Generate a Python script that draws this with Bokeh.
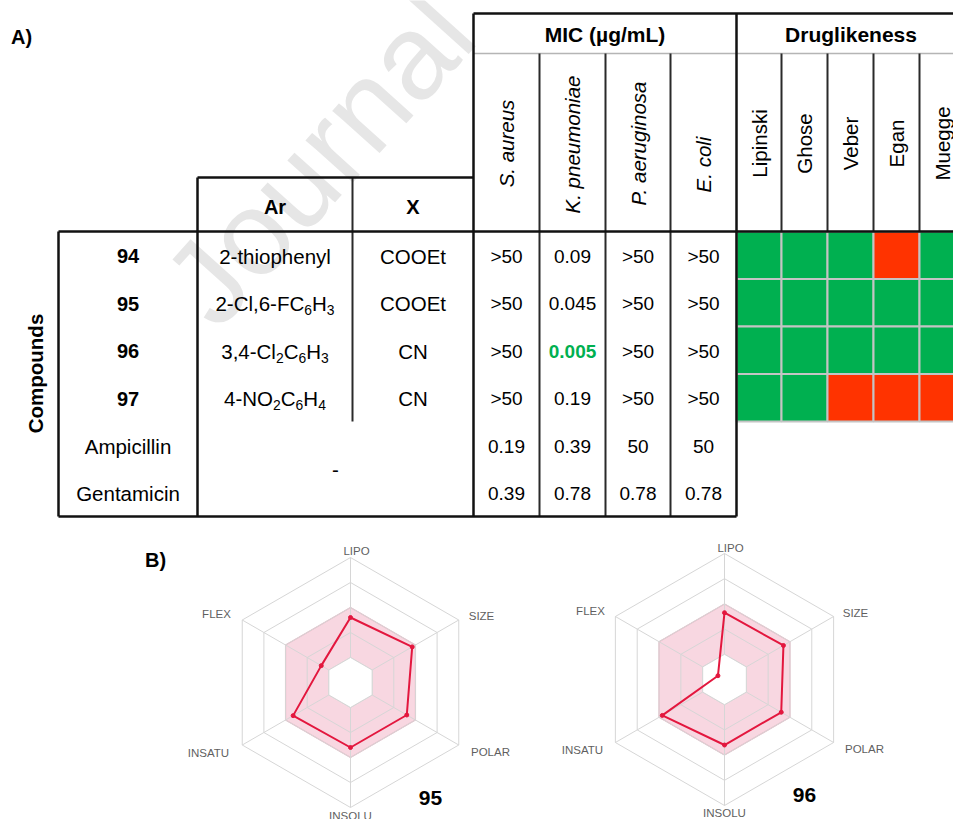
import math
from bokeh.plotting import figure
from bokeh.models import Range1d, ColumnDataSource
from bokeh.core.properties import value
from bokeh.embed import file_html
from bokeh.resources import INLINE

# ---------------- data ----------------
compounds = ["94", "95", "96", "97", "Ampicillin", "Gentamicin"]
compound_bold = [True, True, True, True, False, False]
ar_groups = ["2-thiophenyl", "2-Cl,6-FC_6H_3", "3,4-Cl_2C_6H_3", "4-NO_2C_6H_4"]
x_groups = ["COOEt", "COOEt", "CN", "CN"]
reference_drug_note = "-"
bacteria = ["S. aureus", "K. pneumoniae", "P. aeruginosa", "E. coli"]
mic_s_aureus = [">50", ">50", ">50", ">50", "0.19", "0.39"]
mic_k_pneumoniae = ["0.09", "0.045", "0.005", "0.19", "0.39", "0.78"]
mic_p_aeruginosa = [">50", ">50", ">50", ">50", "50", "0.78"]
mic_e_coli = [">50", ">50", ">50", ">50", "50", "0.78"]
mic_best = [("96", "K. pneumoniae")]
druglike_rules = ["Lipinski", "Ghose", "Veber", "Egan", "Muegge"]
druglike_94 = [1, 1, 1, 0, 1]
druglike_95 = [1, 1, 1, 1, 1]
druglike_96 = [1, 1, 1, 1, 1]
druglike_97 = [1, 1, 0, 0, 0]
radar_axes = ["LIPO", "SIZE", "POLAR", "INSOLU", "INSATU", "FLEX"]
radar_95 = [0.52, 0.57, 0.52, 0.52, 0.53, 0.27]
radar_96 = [0.53, 0.54, 0.52, 0.52, 0.57, 0.06]
optimal_low = 0.2
optimal_high = 0.6
radar_rings = [0.2, 0.4, 0.6, 0.8, 1.0]

# ---------------- layout ----------------
FONT = "Liberation Sans"
FS_L = 20.5   # compound / Ar / X columns
FS_M = 19     # MIC values
FS_R = 20.5   # rotated column headers
W, H = 953, 819
p = figure(width=W, height=H, x_range=Range1d(0, W), y_range=Range1d(H, 0),
           output_backend="svg", toolbar_location=None, min_border=0,
           x_axis_location=None, y_axis_location=None, outline_line_color=None,
           background_fill_color="white", border_fill_color="white")
p.grid.visible = False


def txt(xs, ys, texts, size, style="normal", color="#000000", align="center",
        baseline="middle", angle=0.0, font=FONT):
    colors = color if isinstance(color, list) else [color] * len(xs)
    src = ColumnDataSource(dict(x=list(xs), y=list(ys), text=list(texts), c=colors))
    p.text(x="x", y="y", text="text", source=src, text_color="c",
           text_font=value(font), text_font_size=value(f"{size}px"),
           text_font_style=style, text_align=align, text_baseline=baseline,
           angle=angle)


# watermark
txt([186], [304], ["Journal"], 120, color="#e6e6e6", align="left",
    baseline="alphabetic", angle=math.radians(48))

XL = [58, 197, 352, 473]
XM = [473, 539, 605, 670, 736]
XD = [736, 781, 827, 873, 919, 965]
Y_TOP, Y_MICSUB, Y_ARTOP, Y_HDR = 13, 53, 177, 231
ROW_H = 47.5
Y_BOT = Y_HDR + len(compounds) * ROW_H
Y_HEAT = Y_HDR + len(ar_groups) * ROW_H
row_c = [Y_HDR + ROW_H * (i + 0.5) + 1 for i in range(len(compounds))]
mic_c = [(XM[j] + XM[j + 1]) / 2 for j in range(4)]
drug_c = [(XD[j] + XD[j + 1]) / 2 for j in range(5)]

# heatmap
rows_dl = [druglike_94, druglike_95, druglike_96, druglike_97]
l, r, t, b, fc = [], [], [], [], []
for i, row in enumerate(rows_dl):
    for j, v in enumerate(row):
        l.append(XD[j]); r.append(XD[j + 1])
        t.append(Y_HDR + i * ROW_H); b.append(Y_HDR + (i + 1) * ROW_H)
        fc.append("#00b050" if v else "#ff3300")
p.quad(left=l, right=r, top=t, bottom=b, fill_color=fc, line_color="#c4c4c4", line_width=2)

# table lines
p.segment(x0=[473], y0=[Y_MICSUB], x1=[965], y1=[Y_MICSUB], line_color="#b5b5b5", line_width=1.5)
mx0, my0, mx1, my1 = [], [], [], []
for x in XM[1:-1]:
    mx0.append(x); my0.append(Y_MICSUB); mx1.append(x); my1.append(Y_BOT)
for x in XD[1:-1]:
    mx0.append(x); my0.append(Y_MICSUB); mx1.append(x); my1.append(Y_HDR)
mx0.append(XL[2]); my0.append(Y_ARTOP); mx1.append(XL[2]); my1.append(Y_HEAT)
p.segment(x0=mx0, y0=my0, x1=mx1, y1=my1, line_color="#2a2a2a", line_width=2)
tx0 = [473, XL[1], XL[0], XL[0], XL[0], XL[1], 473, 736]
ty0 = [Y_TOP, Y_ARTOP, Y_HDR, Y_BOT, Y_HDR, Y_ARTOP, Y_TOP, Y_TOP]
tx1 = [965, 473, 965, 736, XL[0], XL[1], 473, 736]
ty1 = [Y_TOP, Y_ARTOP, Y_HDR, Y_BOT, Y_BOT, Y_BOT, Y_BOT, Y_BOT]
p.segment(x0=tx0, y0=ty0, x1=tx1, y1=ty1, line_color="#111111", line_width=2.5)

# headers
txt([21], [36], ["A)"], 20, style="bold")
txt([35], [373], ["Compounds"], 20.5, style="bold", angle=math.pi / 2)
txt([(XL[1] + XL[2]) / 2, (XL[2] + XL[3]) / 2], [206, 206], ["Ar", "X"], 20, style="bold")
txt([(XM[0] + XM[-1]) / 2, (XD[0] + XD[-1]) / 2], [34, 34], ["MIC (µg/mL)", "Druglikeness"], 21, style="bold")
bact_y = [143, 144, 143, 164]
txt(mic_c, bact_y, bacteria, FS_R, style="italic", angle=math.pi / 2)
txt(drug_c, [143] * 5, druglike_rules, FS_R, angle=math.pi / 2)

# compounds column
cx_comp = (XL[0] + XL[1]) / 2
for bold in (True, False):
    idx = [i for i in range(len(compounds)) if compound_bold[i] == bold]
    txt([cx_comp] * len(idx), [row_c[i] for i in idx], [compounds[i] for i in idx],
        20 if bold else FS_L, style="bold" if bold else "normal")

# Ar column with subscripts
CW = {'-': 333, ',': 278, 'C': 722, 'l': 222, 'F': 611, 'H': 722, 'N': 722, 'O': 778,
      't': 278, 'h': 556, 'i': 222, 'o': 556, 'p': 556, 'e': 556, 'n': 556, 'y': 500}
SUB = 0.68


def cw(ch):
    return (556 if ch.isdigit() else CW.get(ch, 556)) / 1000.0


ar_cx = (XL[1] + XL[2]) / 2
mx, my, mt, sx, sy, st = [], [], [], [], [], []
for i, s in enumerate(ar_groups):
    segs = []
    k = 0
    while k < len(s):
        if s[k] == "_":
            segs.append((s[k + 1], True)); k += 2
        else:
            if segs and not segs[-1][1]:
                segs[-1] = (segs[-1][0] + s[k], False)
            else:
                segs.append((s[k], False))
            k += 1
    widths = [sum(cw(c) for c in seg) * FS_L * (SUB if sub else 1) for seg, sub in segs]
    x = ar_cx - sum(widths) / 2
    for (seg, sub), w in zip(segs, widths):
        if sub:
            sx.append(x); sy.append(row_c[i] + 6.5); st.append(seg)
        else:
            mx.append(x); my.append(row_c[i]); mt.append(seg)
        x += w
txt(mx, my, mt, FS_L, align="left")
txt(sx, sy, st, round(FS_L * SUB, 1), align="left")

# X column
txt([(XL[2] + XL[3]) / 2] * len(x_groups), row_c[:len(x_groups)], x_groups, FS_L)
txt([(XL[1] + XL[3]) / 2], [(row_c[4] + row_c[5]) / 2], [reference_drug_note], FS_L)

# MIC values
mic_cols = [mic_s_aureus, mic_k_pneumoniae, mic_p_aeruginosa, mic_e_coli]
nx, ny, nt, hx, hy, ht = [], [], [], [], [], []
for j, col in enumerate(mic_cols):
    for i, v in enumerate(col):
        if (compounds[i], bacteria[j]) in mic_best:
            hx.append(mic_c[j]); hy.append(row_c[i]); ht.append(v)
        else:
            nx.append(mic_c[j]); ny.append(row_c[i]); nt.append(v)
txt(nx, ny, nt, FS_M)
txt(hx, hy, ht, FS_M, style="bold", color="#00b050")

# ---------------- radar charts ----------------
ANG = [90, 30, -30, -90, -150, 150]
LBL_OFF = [(6, -132), (131, -67), (140, 69), (0, 133), (-142, 70), (-134, -69)]


def hexpts(cx, cy, rr):
    return ([cx + rr[k] * math.cos(math.radians(a)) for k, a in enumerate(ANG)],
            [cy - rr[k] * math.sin(math.radians(a)) for k, a in enumerate(ANG)])


def radar(cx, cy, R, vals, name):
    xs, ys = hexpts(cx, cy, [optimal_high * R] * 6)
    p.patch(xs, ys, fill_color="#f8d7e1", line_color="#f0b3c4", line_width=1.2)
    for ring in radar_rings:
        xs, ys = hexpts(cx, cy, [ring * R] * 6)
        p.line(xs + xs[:1], ys + ys[:1], line_color="#d6d6d6", line_width=1)
    sx0, sy0 = hexpts(cx, cy, [optimal_low * R] * 6)
    sx1, sy1 = hexpts(cx, cy, [R] * 6)
    p.segment(x0=sx0, y0=sy0, x1=sx1, y1=sy1, line_color="#d6d6d6", line_width=1)
    xs, ys = hexpts(cx, cy, [optimal_low * R] * 6)
    p.patch(xs, ys, fill_color="white", line_color="#d6d6d6", line_width=1)
    xs, ys = hexpts(cx, cy, [v * R for v in vals])
    p.line(xs + xs[:1], ys + ys[:1], line_color="#e3173e", line_width=2)
    p.scatter(xs, ys, size=4, fill_color="#e3173e", line_color="#e3173e")
    txt([cx + dx for dx, dy in LBL_OFF], [cy + dy for dx, dy in LBL_OFF], radar_axes, 11.5,
        color="#5f5f5f")
    txt([cx + 80], [cy + 115], [name], 21, style="bold")


radar(350, 682, 125, radar_95, "95")
radar(724, 679, 126, radar_96, "96")
txt([155], [559], ["B)"], 20, style="bold")

open("out.html", "w").write(file_html(p, INLINE))
